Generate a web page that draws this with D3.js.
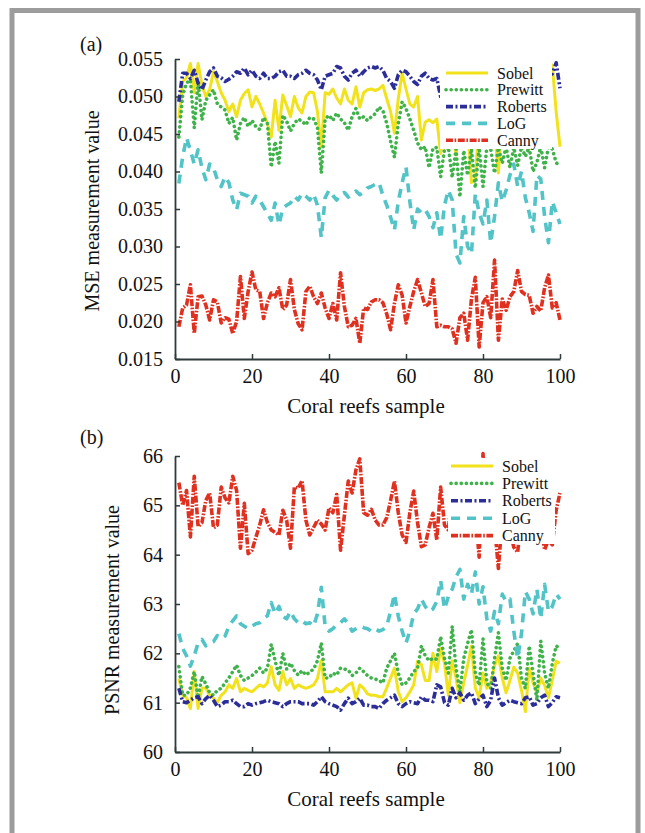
<!doctype html>
<html lang="en">
<head>
<meta charset="utf-8">
<title>MSE and PSNR of edge detectors</title>
<script src="https://cdnjs.cloudflare.com/ajax/libs/d3/7.8.5/d3.min.js"></script>
<style>
  body { margin: 0; background: #fff; }
  svg text { font-family: "Liberation Serif", "Times New Roman", serif; fill: #111; }
</style>
</head>
<body>
<svg width="645" height="833" id="svg"></svg>
<script>

// ---- data -------------------------------------------------------------
var samples = d3.range(1, 101);
var xTicks = [0, 20, 40, 60, 80, 100];
var mseTicks = [0.015, 0.020, 0.025, 0.030, 0.035, 0.040, 0.045, 0.050, 0.055];
var psnrTicks = [60, 61, 62, 63, 64, 65, 66];
var methods = ['Sobel', 'Prewitt', 'Roberts', 'LoG', 'Canny'];

var mseSobel = [0.0471,0.0520,0.0525,0.0544,0.0505,0.0544,0.0515,0.0500,0.0509,0.0533,
  0.0520,0.0505,0.0495,0.0480,0.0490,0.0473,0.0495,0.0504,0.0509,0.0486,
  0.0500,0.0490,0.0478,0.0464,0.0446,0.0495,0.0455,0.0502,0.0488,0.0473,
  0.0500,0.0485,0.0478,0.0500,0.0506,0.0505,0.0480,0.0433,0.0505,0.0503,
  0.0510,0.0498,0.0490,0.0510,0.0495,0.0490,0.0513,0.0486,0.0505,0.0509,
  0.0510,0.0508,0.0510,0.0515,0.0497,0.0480,0.0451,0.0497,0.0531,0.0510,
  0.0490,0.0486,0.0500,0.0442,0.0466,0.0469,0.0465,0.0470,0.0424,0.0470,
  0.0428,0.0465,0.0422,0.0470,0.0480,0.0460,0.0385,0.0390,0.0470,0.0480,
  0.0465,0.0470,0.0455,0.0398,0.0470,0.0475,0.0460,0.0470,0.0480,0.0465,
  0.0450,0.0430,0.0470,0.0475,0.0480,0.0470,0.0520,0.0542,0.0480,0.0433];

var msePrewitt = [0.0446,0.0502,0.0518,0.0522,0.0458,0.0520,0.0469,0.0495,0.0502,0.0509,
  0.0490,0.0486,0.0482,0.0464,0.0472,0.0442,0.0464,0.0472,0.0460,0.0468,
  0.0460,0.0456,0.0472,0.0464,0.0406,0.0440,0.0411,0.0475,0.0467,0.0454,
  0.0464,0.0470,0.0467,0.0462,0.0472,0.0470,0.0459,0.0398,0.0470,0.0475,
  0.0468,0.0478,0.0470,0.0465,0.0455,0.0473,0.0484,0.0470,0.0473,0.0468,
  0.0473,0.0477,0.0486,0.0481,0.0464,0.0440,0.0419,0.0464,0.0493,0.0484,
  0.0470,0.0455,0.0438,0.0429,0.0433,0.0405,0.0431,0.0432,0.0393,0.0430,
  0.0433,0.0392,0.0430,0.0366,0.0428,0.0395,0.0430,0.0378,0.0432,0.0380,
  0.0433,0.0430,0.0398,0.0432,0.0411,0.0433,0.0405,0.0432,0.0408,0.0433,
  0.0420,0.0433,0.0400,0.0412,0.0433,0.0405,0.0433,0.0430,0.0412,0.0406];

var mseRoberts = [0.0493,0.0531,0.0531,0.0524,0.0535,0.0518,0.0509,0.0522,0.0533,0.0538,
  0.0527,0.0525,0.0520,0.0523,0.0527,0.0533,0.0531,0.0538,0.0529,0.0535,
  0.0527,0.0524,0.0531,0.0524,0.0524,0.0527,0.0533,0.0535,0.0527,0.0527,
  0.0524,0.0529,0.0531,0.0535,0.0531,0.0529,0.0522,0.0509,0.0527,0.0529,
  0.0531,0.0540,0.0538,0.0527,0.0522,0.0531,0.0535,0.0527,0.0533,0.0538,
  0.0540,0.0538,0.0540,0.0535,0.0524,0.0520,0.0511,0.0529,0.0535,0.0533,
  0.0527,0.0520,0.0516,0.0527,0.0531,0.0524,0.0522,0.0524,0.0500,0.0515,
  0.0527,0.0533,0.0520,0.0529,0.0535,0.0524,0.0518,0.0531,0.0527,0.0538,
  0.0529,0.0522,0.0533,0.0527,0.0524,0.0531,0.0535,0.0527,0.0520,0.0529,
  0.0533,0.0524,0.0529,0.0535,0.0527,0.0522,0.0529,0.0530,0.0545,0.0511];

var mseLog = [0.0384,0.0420,0.0445,0.0428,0.0410,0.0429,0.0405,0.0389,0.0410,0.0405,
  0.0389,0.0380,0.0393,0.0385,0.0362,0.0349,0.0371,0.0369,0.0367,0.0358,
  0.0367,0.0362,0.0353,0.0344,0.0335,0.0358,0.0329,0.0351,0.0355,0.0358,
  0.0367,0.0362,0.0371,0.0367,0.0362,0.0370,0.0355,0.0312,0.0365,0.0375,
  0.0368,0.0362,0.0370,0.0372,0.0366,0.0370,0.0374,0.0369,0.0372,0.0378,
  0.0380,0.0383,0.0385,0.0368,0.0355,0.0339,0.0322,0.0360,0.0385,0.0406,
  0.0360,0.0322,0.0350,0.0345,0.0349,0.0340,0.0325,0.0345,0.0310,0.0355,
  0.0375,0.0362,0.0290,0.0278,0.0340,0.0300,0.0290,0.0370,0.0345,0.0330,
  0.0362,0.0305,0.0340,0.0385,0.0360,0.0375,0.0395,0.0410,0.0380,0.0400,
  0.0365,0.0345,0.0320,0.0395,0.0390,0.0340,0.0305,0.0360,0.0345,0.0330];

var mseCanny = [0.0193,0.0218,0.0222,0.0249,0.0184,0.0233,0.0234,0.0222,0.0202,0.0229,
  0.0226,0.0198,0.0205,0.0203,0.0184,0.0200,0.0260,0.0204,0.0240,0.0266,
  0.0242,0.0240,0.0204,0.0225,0.0238,0.0233,0.0245,0.0216,0.0222,0.0256,
  0.0216,0.0197,0.0189,0.0240,0.0247,0.0233,0.0224,0.0238,0.0218,0.0204,
  0.0224,0.0202,0.0265,0.0220,0.0193,0.0195,0.0204,0.0171,0.0218,0.0216,
  0.0226,0.0229,0.0229,0.0225,0.0210,0.0189,0.0224,0.0249,0.0235,0.0198,
  0.0220,0.0240,0.0256,0.0238,0.0220,0.0224,0.0256,0.0193,0.0195,0.0193,
  0.0193,0.0190,0.0171,0.0205,0.0211,0.0175,0.0230,0.0259,0.0166,0.0225,
  0.0233,0.0205,0.0282,0.0175,0.0230,0.0215,0.0233,0.0240,0.0268,0.0240,
  0.0236,0.0235,0.0211,0.0220,0.0214,0.0245,0.0262,0.0218,0.0225,0.0202];

var psnrSobel = [61.49,61.15,61.10,60.88,61.63,60.88,61.29,61.30,61.15,61.09,
  61.00,61.15,61.22,61.36,61.29,61.49,61.22,61.29,61.25,61.22,
  61.29,61.36,61.32,61.40,61.73,61.36,61.25,61.63,61.36,61.49,
  61.29,61.36,61.32,61.29,61.32,61.36,61.49,61.85,61.22,61.22,
  61.22,61.29,61.22,61.29,61.36,61.40,61.09,61.36,61.29,61.18,
  61.15,61.15,61.12,61.12,61.30,61.50,61.70,61.22,61.02,61.10,
  61.22,61.36,61.84,61.77,61.45,61.45,62.00,61.63,62.10,61.80,
  61.15,61.85,61.50,61.00,61.40,61.75,62.15,61.30,61.10,61.60,
  61.29,61.40,61.75,61.95,61.50,61.20,61.45,61.72,61.60,61.25,
  60.82,61.70,61.40,61.20,61.50,61.35,61.10,61.45,61.84,61.80];

var psnrPrewitt = [61.73,61.15,61.15,61.30,61.63,61.10,61.53,61.38,61.20,61.15,
  61.25,61.29,61.40,61.50,61.63,61.76,61.55,61.45,61.50,61.55,
  61.62,61.70,61.60,61.70,62.18,61.85,61.55,62.00,61.68,61.80,
  61.65,61.56,61.65,61.56,61.62,61.68,61.85,62.21,61.50,61.50,
  61.60,61.56,61.70,61.68,61.66,61.55,61.60,61.70,61.63,61.55,
  61.50,61.48,61.45,61.40,61.70,61.85,62.00,61.60,61.36,61.40,
  61.50,61.63,61.70,62.15,61.95,61.85,61.90,61.88,62.34,61.90,
  61.60,62.55,61.70,61.22,61.90,62.20,62.48,61.60,61.35,62.30,
  61.40,61.29,61.90,62.42,61.70,61.45,61.90,62.05,62.20,61.50,
  61.29,62.15,61.60,61.05,62.25,61.60,61.29,61.80,62.15,62.10];

var psnrRoberts = [61.29,61.02,61.00,61.05,61.10,61.12,60.98,61.08,61.15,61.05,
  60.92,60.95,61.02,61.02,61.05,60.98,60.92,60.92,60.98,60.95,
  60.98,61.00,61.02,61.05,61.02,61.00,60.98,60.92,60.98,61.02,
  61.02,61.02,60.98,60.98,60.98,60.95,61.02,61.12,61.02,60.98,
  60.95,60.92,60.85,60.98,61.09,60.98,61.02,61.09,60.95,60.95,
  60.92,60.92,60.88,60.98,61.05,61.10,61.15,60.98,60.92,60.98,
  61.02,61.00,60.98,61.12,61.05,61.05,61.02,61.36,61.32,61.00,
  60.95,61.29,61.10,61.20,61.05,61.15,61.20,60.98,61.08,61.15,
  60.92,61.05,61.50,61.10,60.95,61.00,61.05,61.02,61.00,60.98,
  61.10,61.12,60.95,60.98,61.10,61.15,60.92,61.00,61.12,61.10];

var psnrLog = [62.40,62.10,61.95,61.74,61.95,62.21,62.28,62.15,62.21,62.24,
  62.36,62.30,62.35,62.55,62.66,62.76,62.60,62.55,62.50,62.55,
  62.60,62.62,62.70,62.76,63.03,62.80,62.95,62.75,62.70,62.85,
  62.70,62.62,62.66,62.60,62.62,62.55,62.80,63.34,62.55,62.45,
  62.50,62.58,62.62,62.70,62.60,62.45,62.50,62.55,62.52,62.50,
  62.45,62.50,62.45,62.48,62.55,62.85,63.20,62.75,62.45,62.21,
  62.45,62.80,62.90,63.10,62.95,62.85,62.90,63.05,63.48,62.90,
  63.15,63.30,63.55,63.70,63.10,63.40,63.20,63.65,63.00,63.35,
  62.70,62.45,62.85,62.60,63.20,63.05,63.10,62.45,61.90,62.40,
  63.25,63.10,62.80,63.30,62.70,63.40,62.85,62.95,63.20,63.10];

var psnrCanny = [65.46,65.00,65.30,64.36,65.59,64.57,64.65,65.10,65.25,64.54,
  64.60,65.37,65.15,65.05,65.59,65.30,64.13,65.04,64.02,64.09,
  64.35,64.60,64.91,64.65,64.50,64.45,64.40,64.90,64.70,64.13,
  65.37,65.35,65.50,64.70,64.40,64.55,64.70,64.62,64.50,64.95,
  64.85,65.22,64.09,64.80,65.49,65.25,65.72,65.94,64.85,64.80,
  64.92,64.70,64.60,64.60,64.75,65.10,65.49,64.85,64.40,64.25,
  64.85,65.29,64.65,64.16,64.20,64.55,64.84,64.30,65.37,64.60,
  64.50,65.30,64.90,64.40,65.20,64.80,65.10,64.90,63.95,66.05,
  64.70,65.00,64.60,63.72,64.75,65.00,64.50,64.15,64.05,64.80,
  65.10,64.90,64.70,65.20,64.60,64.10,64.30,64.20,64.90,65.25];

// ---- styles per method --------------------------------------------------
var styles = {
  'Sobel':   { color: '#f2e21c', width: 3,   dash: null,            cap: 'butt' },
  'Prewitt': { color: '#3fb24a', width: 3.6, dash: '0.1,5',          cap: 'round' },
  'Roberts': { color: '#2b2d98', width: 3.6, dash: '7,2.5,2,2.5',    cap: 'butt' },
  'LoG':     { color: '#52c4c8', width: 3.6, dash: '9,7',            cap: 'butt' },
  'Canny':   { color: '#e0301f', width: 3.6, dash: '7,1.6,1.6,1.6',  cap: 'butt' }
};

var svg = d3.select('#svg');

svg.append('rect').attr('width', 645).attr('height', 833).attr('fill', '#fff');
svg.append('rect')
  .attr('x', 12).attr('y', 10.5).attr('width', 626).attr('height', 900)
  .attr('fill', 'none').attr('stroke', '#9c9c9c').attr('stroke-width', 5);

function panel(opt) {
  var x = d3.scaleLinear().domain([0, 100]).range([175, 560]);
  var y = d3.scaleLinear().domain(opt.domain).range(opt.range);
  var g = svg.append('g');

  var line = d3.line()
    .x(function(d, i) { return x(samples[i]); })
    .y(function(d) { return y(d); });

  methods.forEach(function(m, k) {
    var s = styles[m];
    g.append('path')
      .datum(opt.series[k])
      .attr('d', line)
      .attr('fill', 'none')
      .attr('stroke', s.color)
      .attr('stroke-width', s.width)
      .attr('stroke-dasharray', s.dash)
      .attr('stroke-linecap', s.cap)
      .attr('stroke-linejoin', 'round');
  });

  // legend (white box, no border)
  var lg = g.append('g');
  lg.append('rect')
    .attr('x', opt.legend.x).attr('y', opt.legend.y)
    .attr('width', opt.legend.w).attr('height', opt.legend.h)
    .attr('fill', '#fff');
  methods.forEach(function(m, k) {
    var s = styles[m];
    var ly = opt.legend.y0 + k * opt.legend.step;
    lg.append('line')
      .attr('x1', opt.legend.lx1).attr('x2', opt.legend.lx2)
      .attr('y1', ly).attr('y2', ly)
      .attr('stroke', s.color)
      .attr('stroke-width', s.width)
      .attr('stroke-dasharray', s.dash)
      .attr('stroke-linecap', s.cap);
    lg.append('text')
      .attr('x', opt.legend.tx).attr('y', ly + 5.5)
      .attr('font-size', 16)
      .text(m);
  });

  var xAxis = d3.axisBottom(x).tickValues(xTicks)
    .tickSizeInner(-5).tickSizeOuter(0).tickPadding(9.5);
  var yAxis = d3.axisLeft(y).tickValues(opt.ticks)
    .tickSizeInner(-5).tickSizeOuter(0).tickPadding(12)
    .tickFormat(opt.format);

  var gx = g.append('g').attr('transform', 'translate(0,' + opt.range[0] + ')').call(xAxis);
  var gy = g.append('g').attr('transform', 'translate(175,0)').call(yAxis);
  [gx, gy].forEach(function(a) {
    a.selectAll('path').attr('stroke', '#2f3a3a').attr('stroke-width', 1.8);
    a.selectAll('line').attr('stroke', '#2f3a3a').attr('stroke-width', 1.5);
    a.selectAll('text')
      .attr('font-family', '"Liberation Serif", serif')
      .attr('font-size', 20).attr('fill', '#111');
  });

  g.append('text')
    .attr('x', 366).attr('y', opt.range[0] + 54)
    .attr('text-anchor', 'middle').attr('font-size', 21)
    .text('Coral reefs sample');

  g.append('text')
    .attr('transform', 'translate(' + opt.ylabelX + ',' + opt.ycenter + ') rotate(-90)')
    .attr('text-anchor', 'middle').attr('font-size', 20)
    .text(opt.ylabel);

  g.append('text')
    .attr('x', 80).attr('y', opt.tagY)
    .attr('font-size', 20)
    .text(opt.tag);
}

panel({
  domain: [0.015, 0.055], range: [359, 59],
  ticks: mseTicks, format: d3.format('.3f'),
  series: [mseSobel, msePrewitt, mseRoberts, mseLog, mseCanny],
  legend: { x: 440, y: 62, w: 112, h: 87, y0: 73, step: 16.8, lx1: 446, lx2: 488, tx: 497 },
  ylabel: 'MSE measurement value', ycenter: 211, ylabelX: 99,
  tag: '(a)', tagY: 51
});

panel({
  domain: [60, 66], range: [752, 456],
  ticks: psnrTicks, format: d3.format('d'),
  series: [psnrSobel, psnrPrewitt, psnrRoberts, psnrLog, psnrCanny],
  legend: { x: 448, y: 458, w: 107, h: 86, y0: 466, step: 17.4, lx1: 451, lx2: 493, tx: 502 },
  ylabel: 'PSNR measurement value', ycenter: 610, ylabelX: 119,
  tag: '(b)', tagY: 444
});

</script>
</body>
</html>
